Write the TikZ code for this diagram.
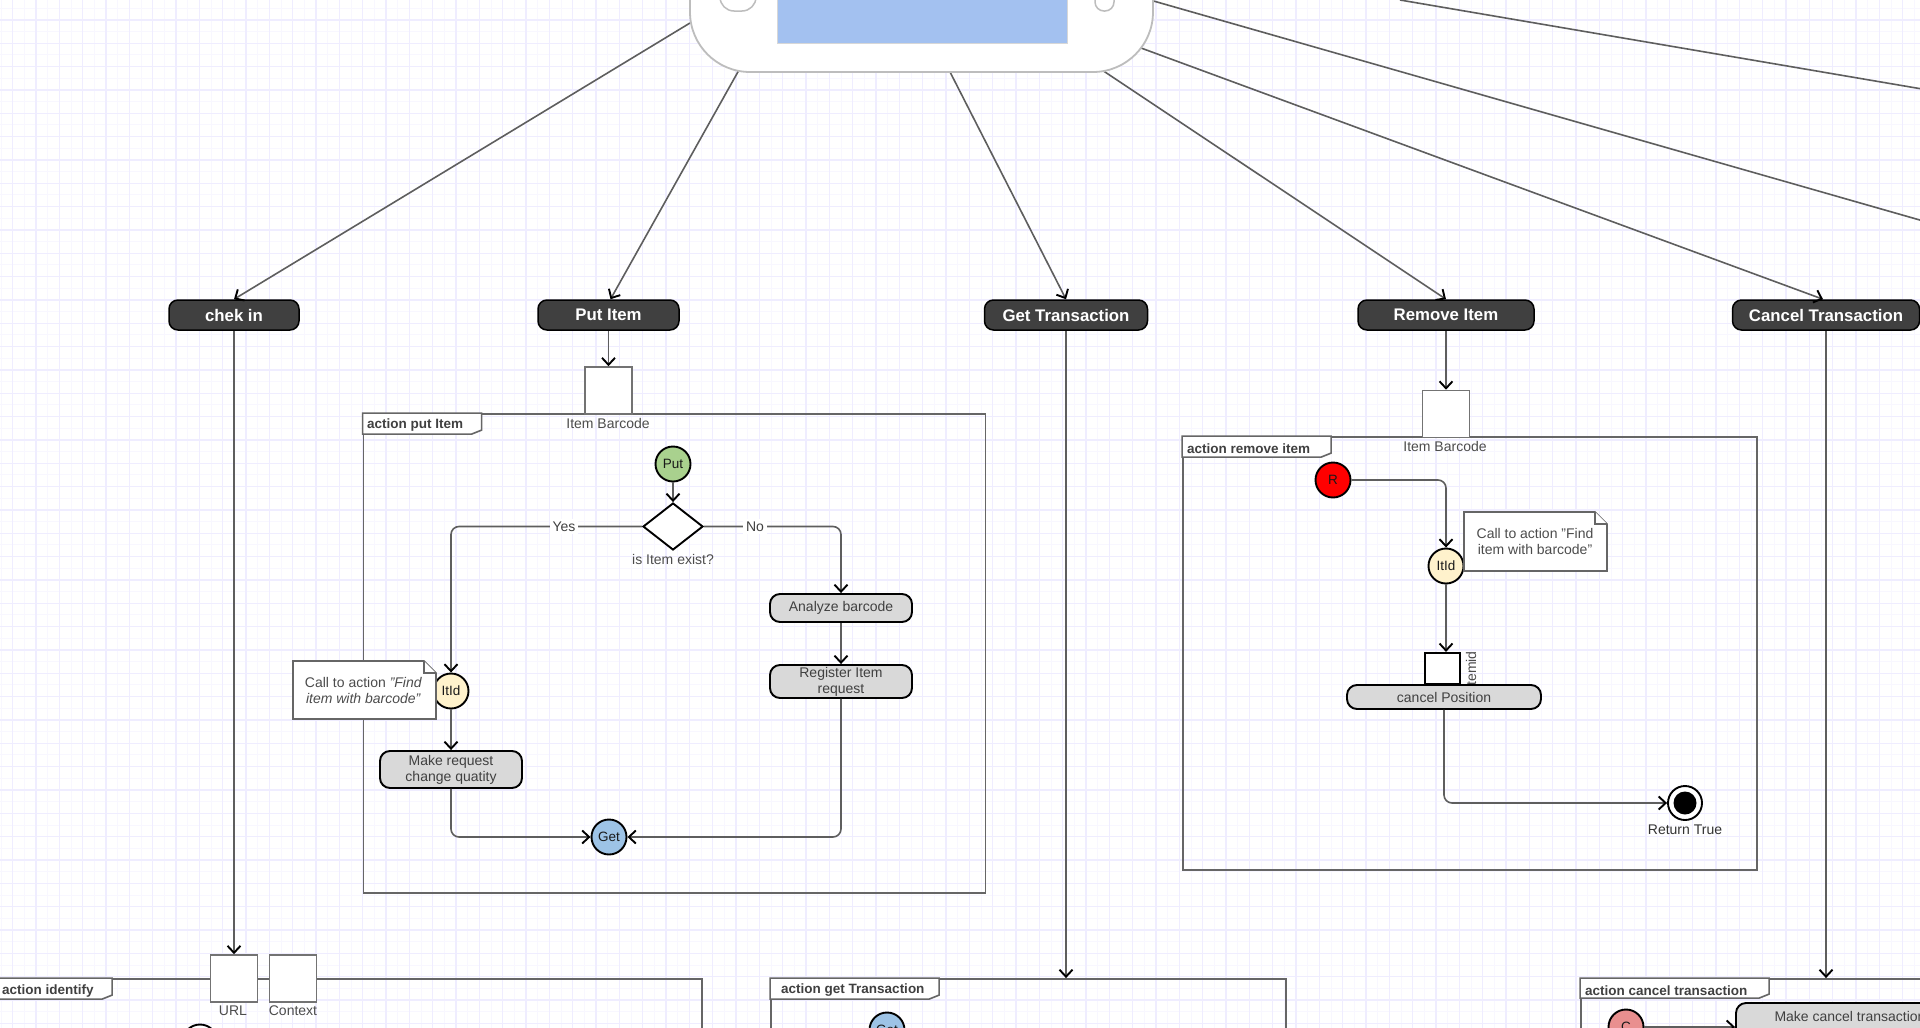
\documentclass[tikz,border=0pt]{standalone}
\usepackage{fontspec}
\setmainfont{Liberation Sans}
\usepackage{xcolor}
\usetikzlibrary{arrows.meta,positioning,shapes.geometric,calc}

\definecolor{gridmajor}{HTML}{EFEDFF}
\definecolor{gridminor}{HTML}{F8F7FF}
\definecolor{linegray}{HTML}{5E5E5E}
\definecolor{framegray}{HTML}{666666}
\definecolor{tabletgray}{HTML}{BDBDBD}
\definecolor{screenblue}{HTML}{A3C1F0}
\definecolor{putgreen}{HTML}{A9D18E}
\definecolor{idyellow}{HTML}{FFF2CC}
\definecolor{getblue}{HTML}{9DC3E6}
\definecolor{cancelred}{HTML}{E98F8F}

\begin{document}
\begin{tikzpicture}[
    x=1pt, y=-1pt,
    flow/.style={line width=1.6pt, linegray, -{Straight Barb[length=7pt,width=13pt,line width=1.9pt,black]}},
    frontend/.style={line width=1.6pt, linegray},
    turn/.style={rounded corners=8pt},
    usecase/.style={rectangle, rounded corners=9pt, draw=black, line width=1.5pt, fill=black!75, text=white, minimum height=30pt, inner sep=0pt, font=\fontsize{16.8}{18}\selectfont\bfseries},
    task/.style={rectangle, rounded corners=10pt, draw=black, line width=1.9pt, fill=black!15, text=black!75, align=center, inner sep=0pt, font=\fontsize{14}{16}\selectfont},
    marker/.style={circle, draw=black, line width=1.9pt, minimum size=35pt, inner sep=0pt, text=black!90, font=\fontsize{13.5}{15}\selectfont},
    decision/.style={diamond, draw=black, line width=1.9pt, fill=white, minimum width=60pt, minimum height=47pt, inner sep=0pt},
    databox/.style={rectangle, draw=black!55, line width=1.6pt, fill=white, minimum size=47pt, inner sep=0pt},
    frame/.style={rectangle, draw=framegray, line width=1.8pt, inner sep=0pt},
    frametab/.style={draw=framegray, line width=1.6pt, fill=white},
    tabtext/.style={anchor=west, inner sep=0pt, text=black!75, font=\fontsize{13.5}{16}\selectfont\bfseries},
    caption/.style={inner sep=0pt, text=black!70, font=\fontsize{14}{16}\selectfont},
    note/.style={draw=framegray, line width=1.6pt, fill=white},
    notetext/.style={align=center, inner sep=0pt, text=black!70, font=\fontsize{14}{16}\selectfont},
    edgetext/.style={fill=white, inner sep=3pt, text=black!75, font=\fontsize{14}{16}\selectfont},
]
\path[use as bounding box, clip] (0,0) rectangle (1920,1028);
\fill[white] (0,0) rectangle (1920,1028);

% Paper grid
\foreach \i in {0,...,165} {
    \draw[gridminor, line width=1pt] (1+11.667*\i,0) -- (1+11.667*\i,1028);
}
\foreach \i in {0,...,90} {
    \draw[gridminor, line width=1pt] (0,8.3+11.667*\i) -- (1920,8.3+11.667*\i);
}
\foreach \i in {0,...,82} {
    \draw[gridmajor, line width=1.3pt] (12.7+23.333*\i,0) -- (12.7+23.333*\i,1028);
}
\foreach \i in {0,...,44} {
    \draw[gridmajor, line width=1.3pt] (0,20+23.333*\i) -- (1920,20+23.333*\i);
}

% Use cases
\node[usecase, minimum width=130pt] (chekin) at (234,315) {chek in};
\node[usecase, minimum width=141pt] (putitem) at (608.5,315) {Put Item};
\node[usecase, minimum width=163pt] (gettrans) at (1066,315) {Get Transaction};
\node[usecase, minimum width=176pt] (removeitem) at (1446,315) {Remove Item};
\node[usecase, minimum width=187pt] (canceltrans) at (1826,315) {Cancel Transaction};

% Start points on the tablet edge, two lines leave the page
\coordinate (tabA) at (690,23);
\coordinate (tabB) at (739,70);
\coordinate (tabC) at (949,70);
\coordinate (tabD) at (1102,70);
\coordinate (tabE) at (1141,48);
\coordinate (tabF) at (1150,0);
\coordinate (tabG) at (1400,0);
\coordinate (offF) at (1925,221.5);
\coordinate (offG) at (1925,89.5);

\draw[flow] (tabA) -- (chekin.north);
\draw[flow] (tabB) -- ([xshift=2pt]putitem.north);
\draw[flow] (tabC) -- (gettrans.north);
\draw[flow] (tabD) -- (removeitem.north);
\draw[flow] (tabE) -- ([xshift=-3pt]canceltrans.north);
\draw[frontend] (tabF) -- (offF);
\draw[frontend] (tabG) -- (offG);

% Tablet
\node[rectangle, rounded corners=60pt, draw=tabletgray, line width=1.8pt, fill=white, minimum width=463pt, minimum height=202pt] (tablet) at (921.5,-29) {};
\node[rectangle, draw=tabletgray!60, line width=1pt, fill=screenblue, minimum width=290pt, minimum height=83pt] (screen) at (922,1.5) {};
\node[rectangle, rounded corners=14pt, draw=tabletgray, line width=1.5pt, fill=white, minimum width=36pt, minimum height=51pt] (leftbtn) at (738,-14.5) {};
\node[rectangle, rounded corners=9pt, draw=tabletgray, line width=1.5pt, fill=white, minimum width=19pt, minimum height=51pt] (rightbtn) at (1104.5,-14.5) {};

% Action put Item
\node[frame, minimum width=622pt, minimum height=479pt] (putframe) at (674.5,653.5) {};
\draw[frametab] (putframe.north west) -- ++(119,0) -- ++(0,17) -- ++(-10,4) -- ++(-109,0) -- cycle;
\node[tabtext] (puttab) at (367,425.5) {action put Item};
\node[databox] (putbarcode) at (608.5,390.5) {};
\node[caption] (putcaption) at (608,423.5) {Item Barcode};
\node[marker, fill=putgreen] (putstart) at (673,464) {Put};
\node[decision] (isitem) at (673,526.5) {};
\node[caption, below=3pt of isitem] (isitemtext) {is Item exist?};
\node[task, minimum width=142pt, minimum height=28pt] (analyze) at (841,608) {Analyze barcode};
\node[task, minimum width=142pt, minimum height=33pt] (register) at (841,681.5) {Register Item\\request};
\node[marker, fill=idyellow] (putid) at (451,691) {ItId};
\node[task, minimum width=142pt, minimum height=37pt] (makereq) at (451,769.5) {Make request\\change quatity};
\node[marker, fill=getblue] (putget) at (609,837) {Get};

\draw[flow] (putitem.south) -- (putbarcode.north);
\draw[flow] (putstart.south) -- (isitem.north);
\draw[flow, turn] (isitem.west) -| (putid.north);
\draw[flow, turn] (isitem.east) -| (analyze.north);
\draw[flow] (analyze.south) -- (register.north);
\draw[flow] (putid.south) -- (makereq.north);
\draw[flow, turn] (makereq.south) |- (putget.west);
\draw[flow, turn] (register.south) |- (putget.east);
\node[edgetext] (yeslabel) at (564,526.5) {Yes};
\node[edgetext] (nolabel) at (755,526.5) {No};

\draw[note] (293,661) -- (424,661) -- (436,673) -- (436,719) -- (293,719) -- cycle;
\draw[note] (424,661) -- (424,673) -- (436,673);
\node[notetext] (putnote) at (363.5,690) {Call to action \textit{"Find}\\\textit{item with barcode"}};

% Action remove item
\node[frame, minimum width=574pt, minimum height=433pt] (removeframe) at (1470,653.5) {};
\draw[frametab] (removeframe.north west) -- ++(149,0) -- ++(0,17) -- ++(-10,4) -- ++(-139,0) -- cycle;
\node[tabtext] (removetab) at (1187,449) {action remove item};
\node[databox] (removebarcode) at (1446,414) {};
\node[caption] (removecaption) at (1445,446.5) {Item Barcode};
\node[marker, fill=red] (removestart) at (1333,480) {R};
\node[marker, fill=idyellow] (removeid) at (1446,566) {ItId};
\node[caption, rotate=90] (itemidtext) at (1471,670) {itemid};
\node[task, minimum width=194pt, minimum height=24pt] (cancelpos) at (1444,697) {cancel Position};
\node[databox, draw=black, line width=2.2pt, minimum size=31pt, minimum width=35pt] (itemidbox) at (1442.5,668.5) {};
\node[circle, draw=black, line width=1.9pt, fill=white, minimum size=34pt, inner sep=0pt] (removeend) at (1685,803) {};
\node[circle, fill=black, minimum size=23pt, inner sep=0pt] (removedot) at (removeend) {};
\node[caption, below=4pt of removeend, text=black!80] (removeendtext) {Return True};

\draw[flow] (removeitem.south) -- (removebarcode.north);
\draw[flow, turn] (removestart.east) -| (removeid.north);
\draw[flow] (removeid.south) -- (removeid.south |- itemidbox.north);
\draw[flow, turn] (cancelpos.south) |- (removeend.west);

\draw[note] (1464,512) -- (1595,512) -- (1607,524) -- (1607,571) -- (1464,571) -- cycle;
\draw[note] (1595,512) -- (1595,524) -- (1607,524);
\node[notetext] (removenote) at (1535,541) {Call to action "Find\\item with barcode"};

% Action identify, cut by the page
\node[frame, minimum width=705pt, minimum height=200pt] (identifyframe) at (349.5,1079) {};
\draw[frametab] (identifyframe.north west) -- ++(116,0) -- ++(0,17) -- ++(-10,4) -- ++(-106,0) -- cycle;
\node[tabtext] (identifytab) at (2,991) {action identify};
\node[databox] (urlbox) at (234,978.5) {};
\node[databox] (contextbox) at (293,978.5) {};
\node[caption] (urltext) at (233,1011) {URL};
\node[caption] (contexttext) at (293,1011) {Context};
\node[marker, fill=white] (identifystart) at (200,1042) {};

\draw[flow] (chekin.south) -- (urlbox.north);

% Action get Transaction, cut by the page
\node[frame, minimum width=515pt, minimum height=200pt] (getframe) at (1028.5,1079) {};
\draw[frametab] (getframe.north west) -- ++(169,0) -- ++(0,17) -- ++(-10,4) -- ++(-159,0) -- cycle;
\node[tabtext] (gettab) at (781,990.5) {action get Transaction};
\node[marker, fill=getblue] (getstart) at (887,1030) {Get};

\draw[flow] (gettrans.south) -- (gettrans.south |- getframe.north);

% Action cancel transaction, cut by the page
\node[frame, minimum width=420pt, minimum height=200pt] (cancelframe) at (1791,1079) {};
\draw[frametab] (cancelframe.north west) -- ++(189,0) -- ++(0,16) -- ++(-10,4) -- ++(-179,0) -- cycle;
\node[tabtext] (canceltab) at (1585,990.5) {action cancel transaction};
\node[marker, fill=cancelred] (cancelstart) at (1626,1027) {C};
\node[task, minimum width=228pt, minimum height=48pt] (makecancel) at (1850,1027) {Make cancel transaction\\ \strut};

\draw[flow] (cancelstart.east) -- (makecancel.west);
\draw[flow] (canceltrans.south) -- (canceltrans.south |- cancelframe.north);

\end{tikzpicture}
\end{document}
